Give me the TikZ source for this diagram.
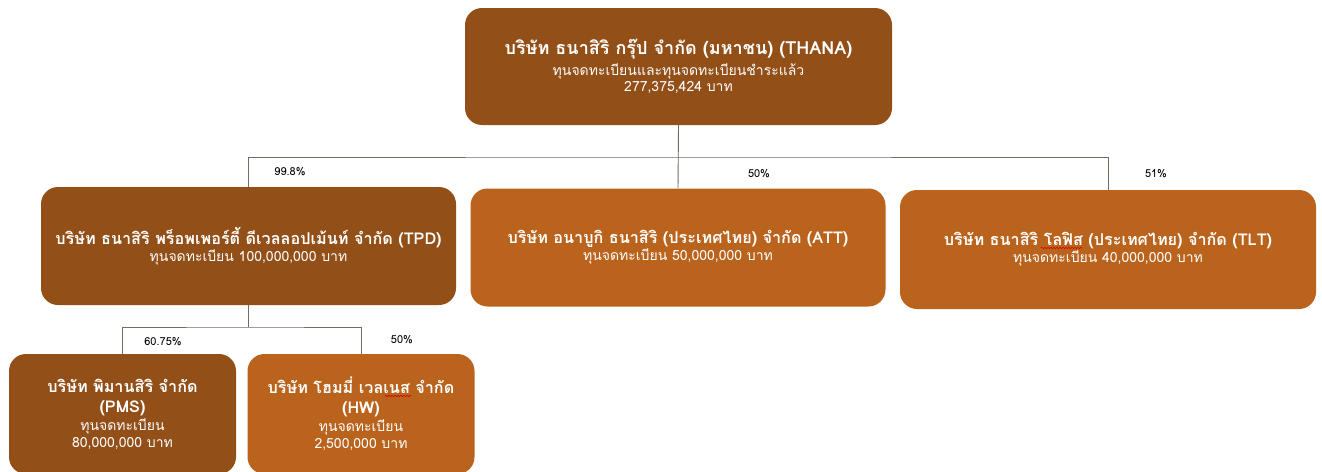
\documentclass[tikz,border=0pt]{standalone}
\usepackage{fontspec}
\usetikzlibrary{decorations.pathmorphing}
\newfontfamily\thaifont[Script=Thai]{Loma}
\definecolor{darkbr}{HTML}{934F18}
\definecolor{lightbr}{HTML}{BA631D}
\definecolor{linec}{HTML}{6E6E62}
\newcommand{\myTopTitle}[1]{{\fontsize{18}{18}\selectfont\bfseries #1}}
\newcommand{\myTitleLine}[1]{{\fontsize{16.2}{17}\selectfont\bfseries #1}}
\newcommand{\mySubLine}[1]{{\fontsize{14}{16}\selectfont #1}}
\begin{document}
\begin{tikzpicture}[x=1pt,y=-1pt,
  box/.style={rounded corners=17pt, text=white, align=center, inner sep=0pt},
  big/.style={box, minimum width=415pt, minimum height=118pt, font=\thaifont\fontsize{12}{17}\selectfont},
  small/.style={box, minimum width=227pt, minimum height=120pt, font=\thaifont\fontsize{12}{17}\selectfont},
  conn/.style={draw=linec, line width=0.9pt},
  squig/.style={draw=red!85!black, line width=0.6pt, decorate, decoration={snake, segment length=3pt, amplitude=0.7pt}},
  pct/.style={font=\thaifont\fontsize{11}{12}\selectfont, text=black, inner sep=0pt}]
\clip (0,0) rectangle (1322,471);
\fill[white] (0,0) rectangle (1322,471);
\coordinate (j1) at (678.5,157);
\coordinate (j2) at (248.5,327);
\node[box, fill=darkbr, minimum width=427pt, minimum height=117pt,
      font=\thaifont\fontsize{12}{16}\selectfont] (thana) at (678.5,66.5) {%
  \myTopTitle{บริษัท ธนาสิริ กรุ๊ป จำกัด (มหาชน) (THANA)}\\[3pt]
  \mySubLine{ทุนจดทะเบียนและทุนจดทะเบียนชำระแล้ว}\\
  \mySubLine{277,375,424 บาท}};
\node[big, fill=darkbr] (tpd) at (248.5,246) {%
  \myTitleLine{บริษัท ธนาสิริ พร็อพเพอร์ตี้ ดีเวลลอปเม้นท์ จำกัด (TPD)}\\
  \mySubLine{ทุนจดทะเบียน 100,000,000 บาท}};
\node[big, fill=lightbr] (att) at (678,247.5) {%
  \myTitleLine{บริษัท อนาบูกิ ธนาสิริ (ประเทศไทย) จำกัด (ATT)}\\
  \mySubLine{ทุนจดทะเบียน 50,000,000 บาท}};
\node[big, fill=lightbr, minimum width=416pt, minimum height=119pt] (tlt) at (1108,249.5) {%
  \myTitleLine{บริษัท ธนาสิริ โลฟิส (ประเทศไทย) จำกัด (TLT)}\\
  \mySubLine{ทุนจดทะเบียน 40,000,000 บาท}};
\node[small, fill=darkbr] (pms) at (122.5,414) {%
  \myTitleLine{บริษัท พิมานสิริ จำกัด}\\[3pt]
  \myTitleLine{(PMS)}\\[1pt]
  \mySubLine{ทุนจดทะเบียน}\\
  \mySubLine{80,000,000 บาท}};
\node[small, fill=lightbr] (hw) at (361,414) {%
  \myTitleLine{บริษัท โฮมมี่ เวลเนส จำกัด}\\[3pt]
  \myTitleLine{(HW)}\\[1pt]
  \mySubLine{ทุนจดทะเบียน}\\
  \mySubLine{2,500,000 บาท}};
\draw[conn] (thana.south) -- (att.north);
\draw[conn] (tpd.north) |- (j1) -| (tlt.north);
\draw[conn] (tpd.south) -- (j2);
\draw[conn] (pms.north) |- (j2) -| (hw.north);
\node[pct] (p1) at (290,172) {99.8\%};
\node[pct] (p2) at (759,174) {50\%};
\node[pct] (p3) at (1156,174) {51\%};
\node[pct] (p4) at (163,342) {60.75\%};
\node[pct] (p5) at (402,340) {50\%};
% spell-check underlines visible in the reference
\draw[squig] (1041,248) -- (1082,248);
\draw[squig] (385,396) -- (411,396);
\end{tikzpicture}
\end{document}
